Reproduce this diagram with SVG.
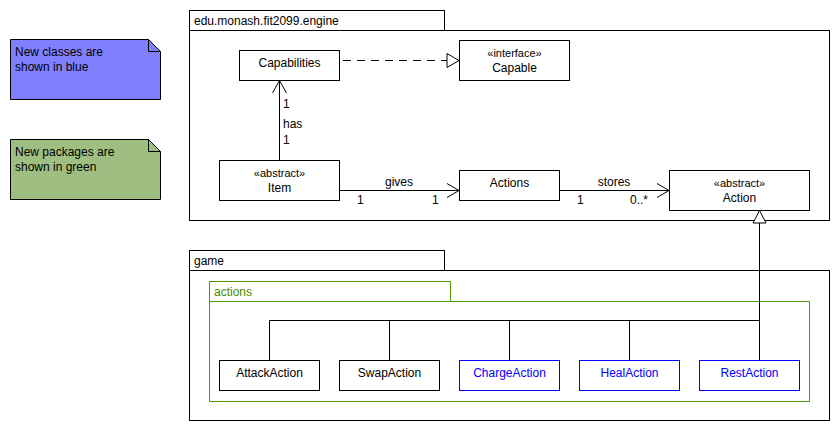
<svg xmlns="http://www.w3.org/2000/svg" width="839" height="430" viewBox="0 0 839 430">
<defs>
<style>
text{font-family:"Liberation Sans",Arial,Helvetica,sans-serif;font-size:12px;fill:#000}
.c{text-anchor:middle}
.box{fill:#fff;stroke:#000;stroke-width:1}
.nbox{fill:#fff;stroke:#0000ff;stroke-width:1}
.ntxt{fill:#0000ff}
.ln{fill:none;stroke:#000;stroke-width:1}
.pkg{fill:#fff;stroke:#000;stroke-width:1}
.gtxt{fill:#4a8a00}
</style>
</defs>
<rect width="839" height="430" fill="#fff"/>

<g id="note-blue">
<path d="M10.5,39.5 H148.5 L160.5,51.5 V99.5 H10.5 Z" fill="#8080ff" stroke="#000"/>
<path d="M148.5,39.5 V51.5 H160.5" fill="none" stroke="#000"/>
<text x="15" y="56">New classes are</text>
<text x="15" y="71">shown in blue</text>
</g>
<g id="note-green">
<path d="M10.5,139.5 H148.5 L160.5,151.5 V199.5 H10.5 Z" fill="#9fbf82" stroke="#000"/>
<path d="M148.5,139.5 V151.5 H160.5" fill="none" stroke="#000"/>
<text x="15" y="156">New packages are</text>
<text x="15" y="171">shown in green</text>
</g>

<g id="pkg-engine">
<rect class="pkg" x="189.5" y="10.5" width="255" height="20"/>
<rect class="pkg" x="189.5" y="30.5" width="640" height="190"/>
<text x="194" y="25">edu.monash.fit2099.engine</text>
</g>

<g id="pkg-game">
<rect class="pkg" x="189.5" y="250.5" width="255" height="20"/>
<rect class="pkg" x="189.5" y="270.5" width="640" height="150"/>
<text x="194" y="265">game</text>
</g>

<g id="pkg-actions">
<rect x="209.5" y="281.5" width="241" height="20" fill="#fff" stroke="#4d9900"/>
<path d="M209.5,301.5 H809.5 V401.5 H209.5 Z" fill="#fff" stroke="#4d9900" stroke-width="1"/>
<text class="gtxt" x="214" y="296">actions</text>
</g>

<g id="connectors">
<line class="ln" x1="343" y1="60.5" x2="447" y2="60.5" stroke-dasharray="8,6"/>
<path d="M447,53.5 L459,60.5 L447,67.5 Z" fill="#fff" stroke="#000"/>
<line class="ln" x1="279.5" y1="160" x2="279.5" y2="80"/>
<path class="ln" d="M272.5,93 L279.5,80.5 L286.5,93"/>
<text x="283" y="108">1</text>
<text x="283" y="128">has</text>
<text x="283" y="144">1</text>
<line class="ln" x1="339" y1="190.5" x2="459" y2="190.5"/>
<path class="ln" d="M447,183.5 L459,190.5 L447,197.5"/>
<text class="c" x="399" y="186">gives</text>
<text x="357" y="204">1</text>
<text x="432" y="204">1</text>
<line class="ln" x1="559" y1="190.5" x2="669" y2="190.5"/>
<path class="ln" d="M657,183.5 L669,190.5 L657,197.5"/>
<text class="c" x="614" y="186">stores</text>
<text x="577" y="204">1</text>
<text x="630" y="204">0..*</text>
<path class="ln" d="M759.5,223 V320.5 H269.5 V360"/>
<line class="ln" x1="389.5" y1="320.5" x2="389.5" y2="360"/>
<line class="ln" x1="509.5" y1="320.5" x2="509.5" y2="360"/>
<line class="ln" x1="629.5" y1="320.5" x2="629.5" y2="360"/>
<line class="ln" x1="759.5" y1="320.5" x2="759.5" y2="360"/>
<path d="M759.5,210.5 L766,223 L753,223 Z" fill="#fff" stroke="#000"/>
</g>

<g id="Capabilities">
<rect class="box" x="239.5" y="50.5" width="100" height="30"/>
<text class="c" x="289.5" y="67">Capabilities</text>
</g>
<g id="Capable">
<rect class="box" x="459.5" y="40.5" width="110" height="40"/>
<text class="c" x="514.5" y="57" style="font-size:11px">«interface»</text>
<text class="c" x="514.5" y="72">Capable</text>
</g>
<g id="Item">
<rect class="box" x="219.5" y="160.5" width="120" height="40"/>
<text class="c" x="279.5" y="177" style="font-size:11px">«abstract»</text>
<text class="c" x="279.5" y="192">Item</text>
</g>
<g id="Actions">
<rect class="box" x="459.5" y="170.5" width="100" height="30"/>
<text class="c" x="509.5" y="187">Actions</text>
</g>
<g id="Action">
<rect class="box" x="669.5" y="170.5" width="140" height="40"/>
<text class="c" x="739.5" y="187" style="font-size:11px">«abstract»</text>
<text class="c" x="739.5" y="202">Action</text>
</g>

<g id="AttackAction">
<rect class="box" x="219.5" y="360.5" width="100" height="30"/>
<text class="c" x="269.5" y="377">AttackAction</text>
</g>
<g id="SwapAction">
<rect class="box" x="339.5" y="360.5" width="100" height="30"/>
<text class="c" x="389.5" y="377">SwapAction</text>
</g>
<g id="ChargeAction">
<rect class="nbox" x="459.5" y="360.5" width="100" height="30"/>
<text class="c ntxt" x="509.5" y="377">ChargeAction</text>
</g>
<g id="HealAction">
<rect class="nbox" x="579.5" y="360.5" width="100" height="30"/>
<text class="c ntxt" x="629.5" y="377">HealAction</text>
</g>
<g id="RestAction">
<rect class="nbox" x="699.5" y="360.5" width="100" height="30"/>
<text class="c ntxt" x="749.5" y="377">RestAction</text>
</g>
</svg>
